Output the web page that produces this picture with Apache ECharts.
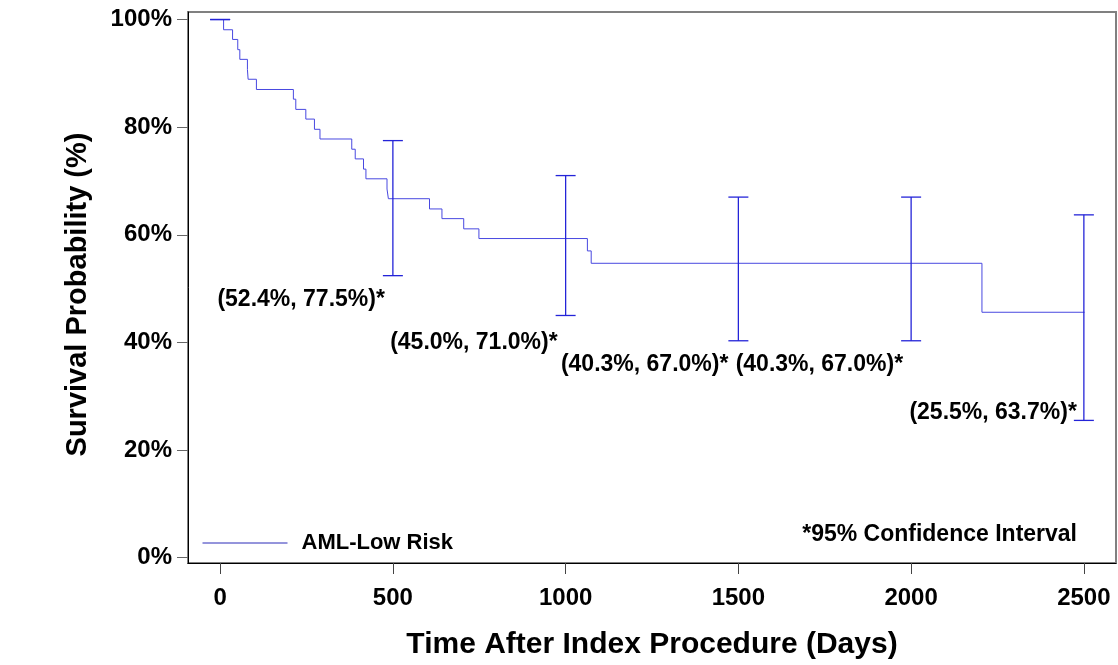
<!DOCTYPE html>
<html>
<head>
<meta charset="utf-8">
<script src="https://cdn.jsdelivr.net/npm/echarts@6/dist/echarts.min.js"></script>
<style>
html,body{margin:0;padding:0;background:#fff;}
#c{width:1118px;height:665px;}
</style>
</head>
<body>
<div id="c"></div>
<script>
// ---- data ----
const stepDays = [0, 10, 36, 51, 57, 79, 81, 105, 212, 219, 248, 273, 289, 381, 391, 415, 422, 483, 487, 606, 642, 705, 749, 1063, 1074, 2205, 2502];
const stepSurv = [100, 98.1, 96.3, 94.4, 92.6, 90.7, 88.9, 87.0, 85.2, 83.3, 81.5, 79.6, 77.8, 75.9, 74.1, 72.2, 70.4, 68.5, 66.7, 64.8, 63.0, 61.1, 59.3, 57.0, 54.7, 45.6, 45.6];
const ciDays = [0, 500, 1000, 1500, 2000, 2500];
const ciLower = [100, 52.4, 45.0, 40.3, 40.3, 25.5];
const ciUpper = [100, 77.5, 71.0, 67.0, 67.0, 63.7];
const xTicks = [0, 500, 1000, 1500, 2000, 2500];
const yTicks = [0, 20, 40, 60, 80, 100];
const seriesName = 'AML-Low Risk';
const noteText = '*95% Confidence Interval';
const xTitle = 'Time After Index Procedure (Days)';
const yTitle = 'Survival Probability (%)';

// ---- layout (label offsets in pixels, relative to lower CI end) ----
const labelOffsets = [null, [-8, 24], [-8, 27], [-10, 24], [-8, 24], [-7, -8]];

const FONT = "'Liberation Sans', Arial, Helvetica, sans-serif";
const barColor = '#2424d8';
const lineColor = '#4848e0';

const curve = stepDays.map((d, i) => [d, stepSurv[i]]);
const ciData = ciDays.map((d, i) => [d, ciLower[i], ciUpper[i]]);
const labelData = [];
ciDays.forEach((d, i) => {
  if (ciLower[i] === ciUpper[i]) return;
  labelData.push({
    value: [d, ciLower[i], ciUpper[i]],
    label: { position: labelOffsets[i] }
  });
});

const chart = echarts.init(document.getElementById('c'), null, { renderer: 'canvas' });
chart.setOption({
  animation: false,
  backgroundColor: '#fff',
  grid: { left: 188, right: 2, top: 12, bottom: 100, show: true, borderColor: '#808080', borderWidth: 2, backgroundColor: 'transparent' },
  xAxis: {
    type: 'value', min: -93, max: 2593,
    name: xTitle, nameLocation: 'middle', nameGap: 67,
    nameTextStyle: { fontFamily: FONT, fontWeight: 'bold', fontSize: 30, color: '#000' },
    axisLine: { show: true, onZero: false, lineStyle: { color: '#000', width: 1 } },
    axisTick: { show: true, customValues: xTicks, length: 11, lineStyle: { color: '#444' } },
    axisLabel: { customValues: xTicks, margin: 23, formatter: v => String(v), fontFamily: FONT, fontWeight: 'bold', fontSize: 24, color: '#000' },
    splitLine: { show: false }
  },
  yAxis: {
    type: 'value', min: -1, max: 101.4,
    name: yTitle, nameLocation: 'middle', nameGap: 96,
    nameTextStyle: { fontFamily: FONT, fontWeight: 'bold', fontSize: 29, color: '#000', padding: [0, 14, 0, 0] },
    axisLine: { show: true, onZero: false, lineStyle: { color: '#000', width: 1 } },
    axisTick: { show: true, customValues: yTicks, length: 11, lineStyle: { color: '#666' } },
    axisLabel: { customValues: yTicks, margin: 16, formatter: v => v + '%', fontFamily: FONT, fontWeight: 'bold', fontSize: 24, color: '#000' },
    splitLine: { show: false }
  },
  legend: {
    left: 202, top: 532, padding: 0, itemWidth: 85, itemHeight: 14,
    data: [seriesName],
    lineStyle: { color: '#2a2ab8', width: 1 },
    itemStyle: { color: 'transparent', borderWidth: 0, opacity: 0 },
    textStyle: { fontFamily: FONT, fontWeight: 'bold', fontSize: 22, color: '#000', padding: [0, 0, 0, 9] },
    selectedMode: false
  },
  graphic: [{
    type: 'text', x: 1077, y: 535,
    style: { text: noteText, align: 'right', verticalAlign: 'middle', font: "bold 23px " + FONT, fill: '#000' }
  }],
  series: [
    {
      name: seriesName, type: 'line', step: 'end', data: curve,
      showSymbol: false, symbol: 'none',
      lineStyle: { color: lineColor, width: 1 }, itemStyle: { color: '#2a2ab8' }, z: 3
    },
    {
      type: 'custom', name: 'ci', data: ciData, z: 4,
      encode: { x: 0, y: [1, 2] },
      renderItem: function (params, api) {
        const x = api.value(0), lo = api.value(1), hi = api.value(2);
        const pt = api.coord([x, hi]);
        const pb = api.coord([x, lo]);
        const w = 10;
        const st = { stroke: barColor, lineWidth: 1.3 };
        const ch = [
          { type: 'line', shape: { x1: pt[0] - w, y1: pt[1], x2: pt[0] + w, y2: pt[1] }, style: st },
          { type: 'line', shape: { x1: pb[0] - w, y1: pb[1], x2: pb[0] + w, y2: pb[1] }, style: st }
        ];
        if (hi !== lo) ch.push({ type: 'line', shape: { x1: pt[0], y1: pt[1], x2: pb[0], y2: pb[1] }, style: st });
        return { type: 'group', children: ch };
      }
    },
    {
      type: 'scatter', name: 'labels', data: labelData, symbolSize: 0.01, silent: true, z: 5,
      itemStyle: { opacity: 1, color: '#000' },
      label: {
        show: true, align: 'right', verticalAlign: 'middle',
        fontFamily: FONT, fontWeight: 'bold', fontSize: 23, color: '#000',
        formatter: p => '(' + p.value[1].toFixed(1) + '%, ' + p.value[2].toFixed(1) + '%)*'
      }
    }
  ]
});
</script>
</body>
</html>
